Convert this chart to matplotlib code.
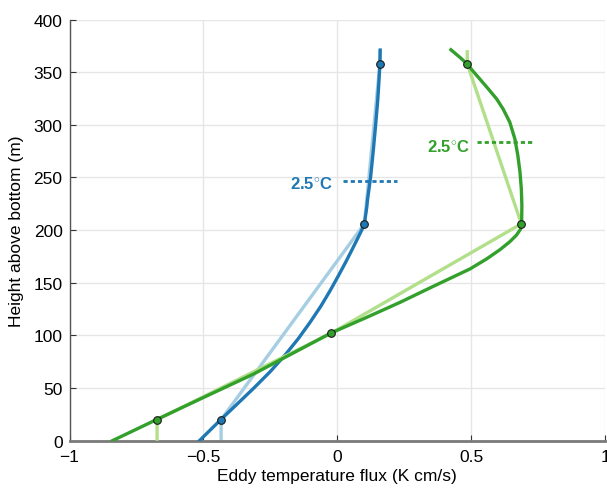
import matplotlib
matplotlib.use("Agg")
import matplotlib.pyplot as plt

plt.rcParams['font.family'] = ['Liberation Sans', 'DejaVu Sans']
plt.rcParams['mathtext.fontset'] = 'custom'
plt.rcParams['mathtext.rm'] = 'Liberation Sans'
plt.rcParams['mathtext.bf'] = 'Liberation Sans:bold'

# ---- data ----
blue_obs_x = [-0.434, 0.101, 0.159]
blue_obs_z = [20, 206, 358]
blue_seg_x = [-0.434, -0.434, 0.101, 0.159, 0.159]
blue_seg_z = [0, 20, 206, 358, 371]
blue_fit_x = [-0.515, -0.434, -0.375, -0.313, -0.251, -0.195, -0.145, -0.102,
              -0.062, -0.027, 0.004, 0.032, 0.056, 0.076, 0.091, 0.101,
              0.106, 0.110, 0.113, 0.124, 0.134, 0.143, 0.151, 0.155, 0.159, 0.160]
blue_fit_z = [0, 20.3, 34.6, 49.7, 65.5, 81.4, 97.2, 112.4,
              127.6, 142.5, 156.7, 170, 182, 192.2, 200, 206,
              215, 222, 229.5, 250, 275, 300, 324, 340, 358, 371]

green_obs_x = [-0.673, -0.0235, 0.687, 0.485]
green_obs_z = [20, 102, 206, 358]
green_seg_x = [-0.673, -0.673, -0.0235, 0.687, 0.485, 0.485]
green_seg_z = [0, 20, 102, 206, 358, 371]
green_fit_x = [-0.84, -0.673, -0.512, -0.313, -0.0235, 0.110, 0.234, 0.358,
               0.495, 0.557, 0.607, 0.644, 0.669, 0.684, 0.688, 0.689, 0.687,
               0.682, 0.674, 0.663, 0.644, 0.619, 0.595, 0.564, 0.532, 0.507,
               0.485, 0.458, 0.424]
green_fit_z = [0, 20.3, 39.6, 63.3, 102.3, 117.2, 131.4, 146.6,
               163.1, 172.6, 181.4, 189, 195.3, 201, 206, 223.2, 239,
               254.9, 270.7, 286.5, 302.4, 315, 324.5, 334, 343.5, 350.8,
               357.7, 364, 371.3]

blue_scale_x = [0.021, 0.223]
blue_scale_z = [247, 247]
green_scale_x = [0.52, 0.725]
green_scale_z = [283.4, 283.4]
scale_label = '2.5$^{\\circ}$C'

xticks = [-1, -0.5, 0, 0.5, 1]
xticklabels = ['\u22121', '\u22120.5', '0', '0.5', '1']
yticks = list(range(0, 401, 50))

dblue, lblue = '#1f78b4', '#a6cee3'
dgreen, lgreen = '#33a02c', '#b2df8a'

fig = plt.figure(figsize=(6.07, 4.89), dpi=100)
ax = fig.add_axes([0.1145, 0.0967, 0.8825, 0.8613])

ax.plot(blue_seg_x, blue_seg_z, color=lblue, lw=2.4, zorder=2, solid_capstyle='butt')
ax.plot(blue_fit_x, blue_fit_z, color=dblue, lw=2.4, zorder=3, solid_joinstyle='round')
ax.plot(green_seg_x, green_seg_z, color=lgreen, lw=2.4, zorder=4, solid_capstyle='butt')
ax.plot(green_fit_x, green_fit_z, color=dgreen, lw=2.4, zorder=5, solid_joinstyle='round')
ax.plot(blue_obs_x, blue_obs_z, 'o', ms=5.5, mfc=dblue, mec='#1a1a1a', mew=0.8, zorder=6)
ax.plot(green_obs_x, green_obs_z, 'o', ms=5.5, mfc=dgreen, mec='#1a1a1a', mew=0.8, zorder=6)

ax.plot(blue_scale_x, blue_scale_z, color=dblue, lw=2, ls=(0, (1.5, 1.1)), zorder=6)
ax.plot(green_scale_x, green_scale_z, color=dgreen, lw=2, ls=(0, (1.5, 1.1)), zorder=6)
ax.text(-0.015, 244, scale_label, color=dblue, fontsize=12, fontweight='bold',
        ha='right', va='center')
ax.text(0.495, 279.5, scale_label, color=dgreen, fontsize=12, fontweight='bold',
        ha='right', va='center')

ax.set_xlim(-1, 1)
ax.set_ylim(0, 400)
ax.set_xticks(xticks)
ax.set_xticklabels(xticklabels)
ax.set_yticks(yticks)
ax.grid(True, color='#e6e6e6', lw=1)
ax.set_axisbelow(True)
for s in ['top', 'right']:
    ax.spines[s].set_visible(False)
ax.spines['left'].set_color('#555555')
ax.spines['left'].set_linewidth(1.0)
ax.spines['bottom'].set_color('#7a7a7a')
ax.spines['bottom'].set_linewidth(2.0)
ax.tick_params(direction='in', length=4, color='#333333', labelsize=12.5)
ax.tick_params(axis='x', pad=6)
ax.tick_params(axis='y', pad=5)
ax.set_xlabel('Eddy temperature flux (K cm/s)', fontsize=12.5, labelpad=3)
ax.set_ylabel('Height above bottom (m)', fontsize=12.5, labelpad=7)

fig.savefig('out.png', dpi=100)
